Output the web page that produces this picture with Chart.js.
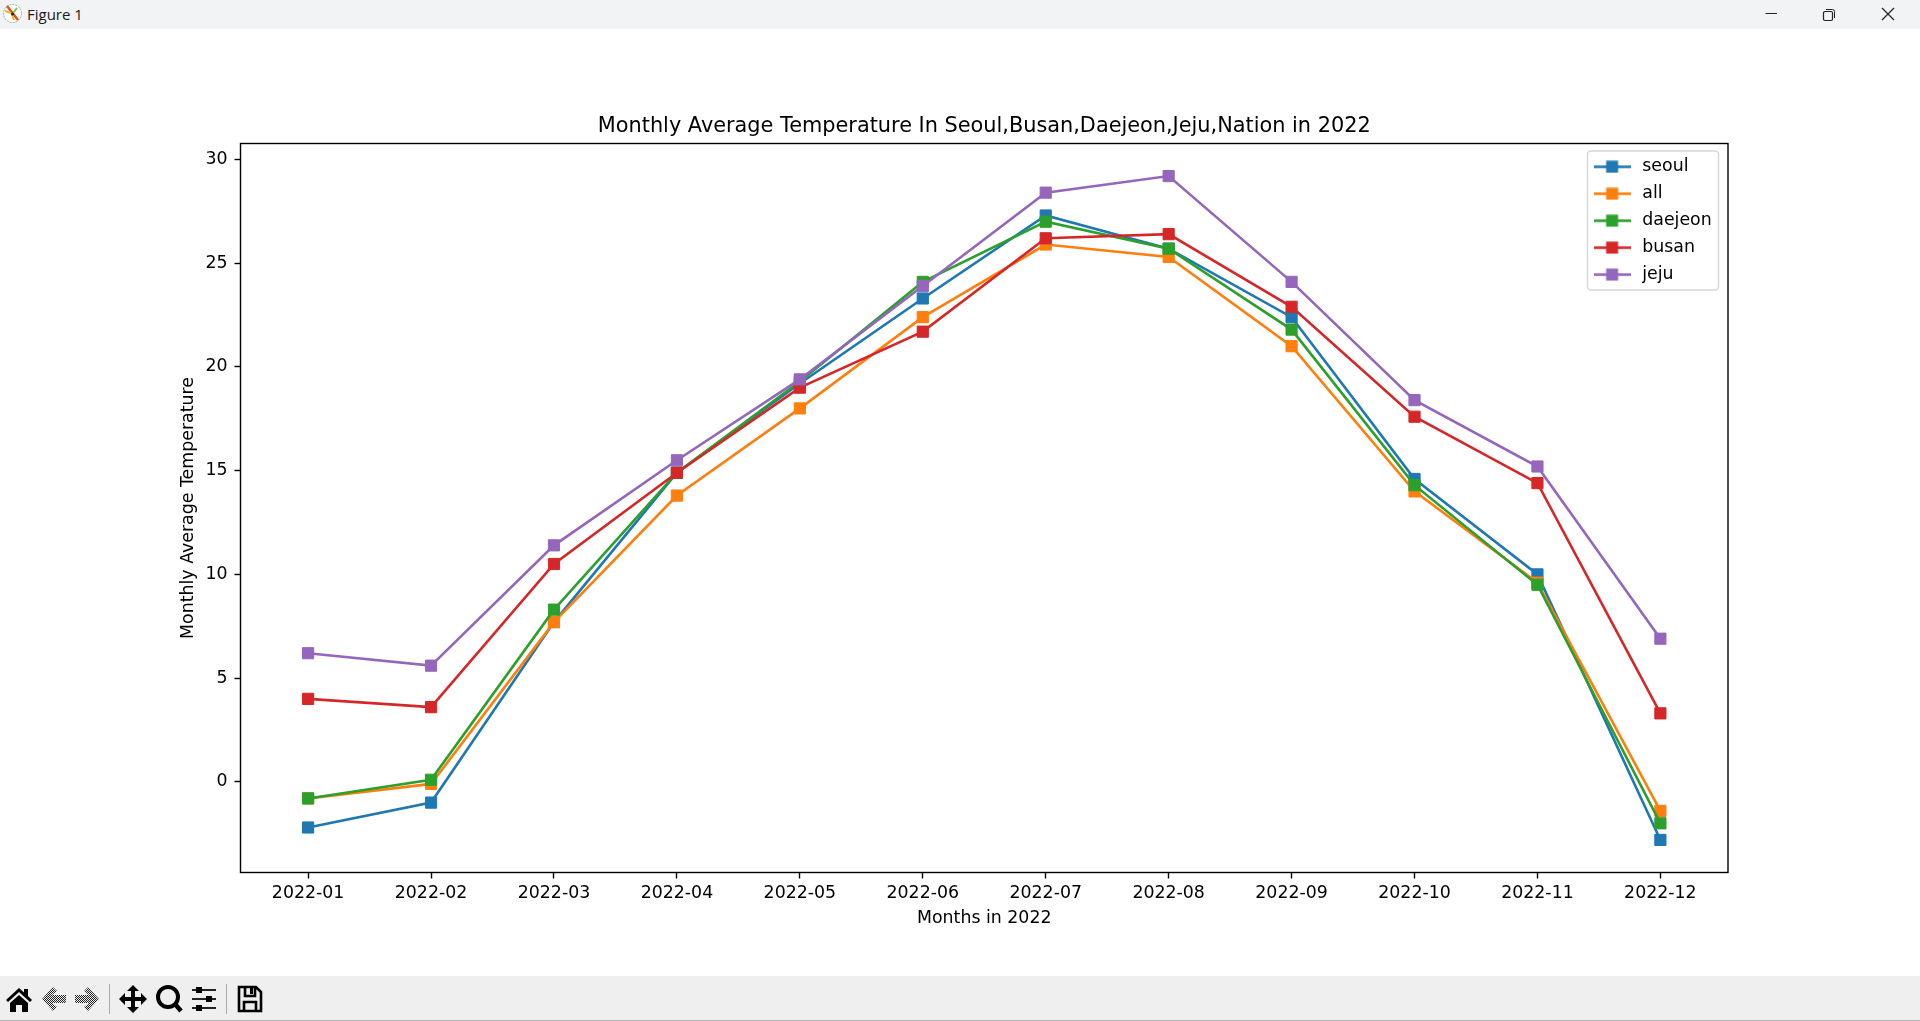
<!DOCTYPE html>
<html>
<head>
<meta charset="utf-8">
<title>Figure 1</title>
<script src="https://cdn.jsdelivr.net/npm/chart.js@4/dist/chart.umd.min.js"></script>
<style>
  html, body { margin: 0; padding: 0; width: 1920px; height: 1021px; overflow: hidden; background: #fff; }
  #grafica { position: absolute; left: 0; top: 0; }
  #barra { position: absolute; left: 0; top: 0; width: 1920px; height: 29px; background: #f2f3f5; }
  #barra span { position: absolute; left: 27px; top: 4px; font: 15px "Open Sans", sans-serif; color: #1a1a1a; }
  #herramientas { position: absolute; left: 0; top: 976px; width: 1920px; height: 44px; background: #efefef; border-bottom: 1px solid #b4b4b4; }
  svg { position: absolute; }
</style>
</head>
<body>
<canvas id="grafica" width="1920" height="1021"></canvas>

<div id="barra">
  <svg style="left:2px;top:3px" width="21" height="21" viewBox="0 0 21 21">
    <circle cx="10.5" cy="10.5" r="9" fill="#fff" stroke="#aaa" stroke-dasharray="2 1"/>
    <path d="M5 3 L16 17" stroke="#d9531e" stroke-width="2.5"/>
    <path d="M3 8 L9 10 M10 11 L12 17" stroke="#f0b429" stroke-width="2"/>
    <path d="M15 5 L11 10" stroke="#7cc142" stroke-width="2"/>
    <circle cx="10.5" cy="11" r="1.5" fill="#222"/>
  </svg>
  <span>Figure 1</span>
  <svg style="left:1764px;top:9px" width="14" height="10"><path d="M1.5 4.5 H13" stroke="#222" stroke-width="1"/></svg>
  <svg style="left:1821px;top:7px" width="16" height="16" viewBox="0 0 16 16" fill="none" stroke="#222">
    <rect x="2.5" y="4.5" width="9" height="9" rx="1.5" stroke-width="1.2"/>
    <path d="M5 2.5 H11.5 Q13.5 2.5 13.5 4.5 V11" stroke-width="1"/>
  </svg>
  <svg style="left:1881px;top:7px" width="14" height="14"><path d="M1 1 L13 13 M13 1 L1 13" stroke="#222" stroke-width="1.2"/></svg>
</div>

<div id="herramientas">
  <svg style="left:0;top:0" width="270" height="44" viewBox="0 0 270 44">
    <defs>
      <pattern id="trama" width="2" height="2" patternUnits="userSpaceOnUse">
        <rect width="1" height="1" fill="#222"/><rect x="1" y="1" width="1" height="1" fill="#222"/>
      </pattern>
    </defs>
    <path d="M6 24 L19 12 L24 16.5 V13 H28 V20 L32 24 L30 26 L19 16 L8 26 Z M10 27 L19 19 L28 27 V36 H22 V29 H16 V36 H10 Z" fill="#000"/>
    <path d="M42 23 L53 11 L57 15 L52 19 H66 V27 H52 L57 31 L53 35 Z" fill="url(#trama)"/>
    <path d="M99 23 L88 11 L84 15 L89 19 H75 V27 H89 L84 31 L88 35 Z" fill="url(#trama)"/>
    <rect x="109" y="8" width="1" height="30" fill="#aaa"/>
    <path d="M133 9 L139 15 H135 V21 H141 V17 L147 23 L141 29 V25 H135 V31 H139 L133 37 L127 31 H131 V25 H125 V29 L119 23 L125 17 V21 H131 V15 H127 Z" fill="#000"/>
    <circle cx="168" cy="21" r="10" fill="none" stroke="#000" stroke-width="4"/>
    <path d="M175 28 L181 35" stroke="#000" stroke-width="4.5"/>
    <path d="M192 14 H216 M192 23 H216 M192 32 H216" stroke="#222" stroke-width="1.8"/>
    <rect x="196" y="11" width="6" height="6" fill="#000"/><rect x="206" y="20" width="6" height="6" fill="#000"/><rect x="196" y="29" width="6" height="6" fill="#000"/>
    <rect x="226" y="8" width="1" height="30" fill="#aaa"/>
    <path d="M239 11 H256 L261 16 V35 H239 Z M245 11 V20 H255 V11 M244 35 V26 H256 V35" fill="none" stroke="#000" stroke-width="2.6"/>
    <rect x="250" y="12" width="3" height="6" fill="#000"/>
  </svg>
</div>

<script>
const meses = ["2022-01", "2022-02", "2022-03", "2022-04", "2022-05", "2022-06", "2022-07", "2022-08", "2022-09", "2022-10", "2022-11", "2022-12"];
const ticksY = [0, 5, 10, 15, 20, 25, 30];

const seoul = [-2.2, -1.0, 7.7, 14.9, 19.2, 23.3, 27.3, 25.7, 22.4, 14.6, 10.0, -2.8];
const all = [-0.8, -0.1, 7.7, 13.8, 18.0, 22.4, 25.9, 25.3, 21.0, 14.0, 9.6, -1.4];
const daejeon = [-0.8, 0.1, 8.3, 14.9, 19.3, 24.1, 27.0, 25.7, 21.8, 14.3, 9.5, -2.0];
const busan = [4.0, 3.6, 10.5, 14.9, 19.0, 21.7, 26.2, 26.4, 22.9, 17.6, 14.4, 3.3];
const jeju = [6.2, 5.6, 11.4, 15.5, 19.4, 23.9, 28.4, 29.2, 24.1, 18.4, 15.2, 6.9];

const nombres = ["seoul", "all", "daejeon", "busan", "jeju"];
const series = [seoul, all, daejeon, busan, jeju];
const colores = ["#1f77b4", "#ff7f0e", "#2ca02c", "#d62728", "#9467bd"];

const fuente = "'DejaVu Sans'";
const tamTexto = 17.36;

// icono de la leyenda: linea con el cuadrado encima
function iconoLeyenda(color) {
  const c = document.createElement("canvas");
  c.width = 37;
  c.height = 13;
  const g = c.getContext("2d");
  g.fillStyle = color;
  g.fillRect(0, 5.2, 37, 2.6);
  g.fillRect(12.5, 0.5, 12, 12);
  return c;
}

// order: el ultimo de la lista queda encima, como en la figura
const datasets = nombres.map((n, i) => ({
  label: n,
  data: series[i].map((v, j) => ({ x: j, y: v })),
  borderColor: colores[i],
  backgroundColor: colores[i],
  borderWidth: 2.6,
  pointStyle: "rect",
  pointRadius: 7.9,
  pointBorderWidth: 1,
  tension: 0,
  order: nombres.length - i,
}));

// marco completo del area y caja de la leyenda
const marco = {
  id: "marco",
  afterLayout(chart) {
    chart.legend.left = 1581;
    chart.legend.top = 148.5;
  },
  beforeDraw(chart) {
    const ctx = chart.ctx;
    ctx.save();
    ctx.fillStyle = "#fff";
    ctx.strokeStyle = "#d6d6d6";
    ctx.lineWidth = 1.4;
    ctx.beginPath();
    ctx.roundRect(1587.5, 151, 131, 139, 3.5);
    ctx.fill();
    ctx.stroke();
    ctx.restore();
  },
  afterDatasetsDraw(chart) {
    const a = chart.chartArea;
    const ctx = chart.ctx;
    ctx.save();
    ctx.strokeStyle = "#000";
    ctx.lineWidth = 1.4;
    ctx.strokeRect(a.left, a.top, a.right - a.left, a.bottom - a.top);
    ctx.restore();
  },
};

new Chart(document.getElementById("grafica"), {
  type: "line",
  data: { datasets: datasets },
  plugins: [marco],
  options: {
    responsive: false,
    animation: false,
    events: [],
    clip: true,
    layout: { padding: { left: 0, right: 192, top: 0, bottom: 0 } },
    plugins: {
      tooltip: { enabled: false },
      title: {
        display: true,
        fullSize: false,
        text: "Monthly Average Temperature In Seoul,Busan,Daejeon,Jeju,Nation in 2022",
        color: "#000",
        font: { family: fuente, size: 20.83, weight: "normal", lineHeight: 1.2 },
        padding: { top: 114.5, bottom: 4 },
      },
      legend: {
        position: "chartArea",
        align: "start",
        labels: {
          color: "#000",
          font: { family: fuente, size: tamTexto },
          usePointStyle: true,
          pointStyleWidth: 43,
          padding: 9.6,
          generateLabels: (chart) =>
            chart.data.datasets.map((d, i) => ({
              text: d.label,
              datasetIndex: i,
              pointStyle: iconoLeyenda(colores[i]),
              fontColor: "#000",
            })),
        },
      },
    },
    scales: {
      x: {
        type: "linear",
        min: -0.55,
        max: 11.55,
        afterBuildTicks: (s) => {
          s.ticks = meses.map((m, i) => ({ value: i }));
        },
        afterFit: (s) => {
          s.height = 148.5;
        },
        ticks: {
          callback: (v) => meses[v],
          color: "#000",
          font: { family: fuente, size: tamTexto },
          autoSkip: false,
          maxRotation: 0,
          padding: 5,
        },
        grid: { drawOnChartArea: false, drawTicks: true, tickLength: 6, tickColor: "#000", tickWidth: 1.4 },
        border: { display: false },
        title: {
          display: true,
          text: "Months in 2022",
          color: "#000",
          font: { family: fuente, size: tamTexto },
          padding: { top: 0, bottom: 92.5 },
        },
      },
      y: {
        type: "linear",
        min: -4.37,
        max: 30.77,
        afterBuildTicks: (s) => {
          s.ticks = ticksY.map((v) => ({ value: v }));
        },
        afterFit: (s) => {
          s.width = 240.5;
        },
        ticks: {
          callback: (v) => String(v),
          color: "#000",
          font: { family: fuente, size: tamTexto },
          padding: 7,
        },
        grid: { drawOnChartArea: false, drawTicks: true, tickLength: 6, tickColor: "#000", tickWidth: 1.4 },
        border: { display: false },
        title: {
          display: true,
          text: "Monthly Average Temperature",
          color: "#000",
          font: { family: fuente, size: tamTexto },
          padding: { top: 178.5, bottom: 0 },
        },
      },
    },
  },
});
</script>
</body>
</html>
